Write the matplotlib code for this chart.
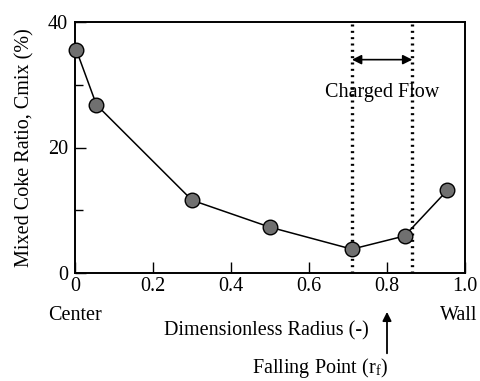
import matplotlib
matplotlib.use("Agg")
import matplotlib.pyplot as plt

plt.rcParams['font.family'] = ['Liberation Serif', 'DejaVu Serif']
plt.rcParams['mathtext.fontset'] = 'stix'

# Dimensionless radius and mixed coke ratio
radius = [0.003, 0.055, 0.30, 0.50, 0.71, 0.845, 0.955]
cmix = [35.6, 26.8, 11.6, 7.3, 3.8, 5.9, 13.2]

# Extent of the charged flow
flow_bounds = [0.71, 0.865]
falling_point = 0.8

x_ticks = [0, 0.2, 0.4, 0.6, 0.8, 1.0]
x_ticklabels = ['0', '0.2', '0.4', '0.6', '0.8', '1.0']
y_ticks = [0, 20, 40]

FS = 14.5

fig = plt.figure(figsize=(4.81, 3.81), dpi=100)
ax = fig.add_axes([75 / 481, 108 / 381, 390 / 481, 251 / 381])

ax.plot(radius, cmix, color='black', lw=1.1, marker='o', ms=10.5,
        mfc='#707070', mec='black', mew=1.0, zorder=3, clip_on=False)

for xb in flow_bounds:
    ax.axvline(xb, color='black', ls=(0, (0.6, 1.3)), lw=2.4, zorder=2)

ax.annotate('', xy=(flow_bounds[0], 34), xytext=(flow_bounds[1], 34),
            arrowprops=dict(arrowstyle='<|-|>', color='black', lw=1.2,
                            mutation_scale=14, shrinkA=0, shrinkB=0))
ax.text(sum(flow_bounds) / 2, 28.8, 'Charged Flow', ha='center',
        va='center', fontsize=FS)

ax.set_xlim(0, 1.0)
ax.set_ylim(0, 40)
ax.set_xticks(x_ticks)
ax.set_xticklabels(x_ticklabels)
ax.set_yticks(y_ticks)
ax.set_yticks([10, 30], minor=True)
ax.tick_params(axis='both', which='major', direction='in', length=8,
               width=1.0, labelsize=FS, pad=5)
ax.tick_params(axis='y', which='minor', direction='in', length=6, width=1.0)
ax.tick_params(axis='x', which='major', pad=3)
for s in ax.spines.values():
    s.set_linewidth(1.4)

ax.set_ylabel('Mixed Coke Ratio, Cmix (%)', fontsize=FS, labelpad=10)

ax.text(0.0, -0.17, 'Center', transform=ax.transAxes, ha='center',
        va='center', fontsize=FS)
ax.text(0.985, -0.17, 'Wall', transform=ax.transAxes, ha='center',
        va='center', fontsize=FS)
ax.text(0.49, -0.23, 'Dimensionless Radius (-)', transform=ax.transAxes,
        ha='center', va='center', fontsize=FS)

ax.annotate('', xy=(falling_point, -0.155), xytext=(falling_point, -0.32),
            xycoords=('data', 'axes fraction'),
            textcoords=('data', 'axes fraction'),
            arrowprops=dict(arrowstyle='-|>', color='black', lw=1.3,
                            mutation_scale=13, shrinkA=0, shrinkB=0))
ax.text(0.63, -0.38, r'Falling Point (r$_\mathregular{f}$)',
        transform=ax.transAxes, ha='center', va='center', fontsize=FS)

fig.savefig('out.png', dpi=100)
